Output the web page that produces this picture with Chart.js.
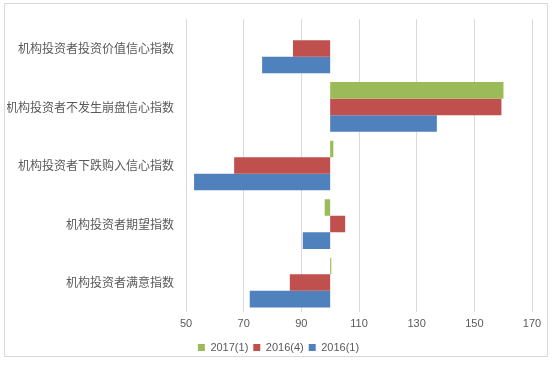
<!DOCTYPE html>
<html>
<head>
<meta charset="utf-8">
<script src="https://cdn.jsdelivr.net/npm/chart.js@4.4.1/dist/chart.umd.min.js"></script>
<style>
html,body{margin:0;padding:0;background:#fff;}
#wrap{width:556px;height:366px;position:relative;}
</style>
</head>
<body>
<div id="wrap"><canvas id="c" width="556" height="366"></canvas></div>
<script>
const categories = ["机构投资者投资价值信心指数","机构投资者不发生崩盘信心指数","机构投资者下跌购入信心指数","机构投资者期望指数","机构投资者满意指数"];
const seriesNames = ["2017(1)","2016(4)","2016(1)"];
const s2017_1 = [null, 160.1, 101.1, 98.1, 100.4];
const s2016_4 = [87.1, 159.4, 66.7, 105.2, 86.0];
const s2016_1 = [76.4, 137.0, 52.8, 90.5, 72.1];
const xTicks = [50, 70, 90, 110, 130, 150, 170];
const baseValue = 100;
const colors = ["#9BBB59", "#C0504D", "#4F81BD"];

const borderPlugin = {
  id: 'outerBorder',
  beforeDraw(chart) {
    const ctx = chart.ctx;
    ctx.save();
    ctx.fillStyle = '#fff';
    ctx.fillRect(0, 0, chart.width, chart.height);
    ctx.strokeStyle = '#d9d9d9';
    ctx.lineWidth = 1;
    ctx.strokeRect(4.5, 3.5, 543, 353);
    ctx.restore();
  },
  afterLayout(chart) {
    // centre legend on the whole canvas rather than padded area
    const lg = chart.legend;
    if (lg) { lg.left += 9; lg.right += 9; }
  }
};

const seriesData = [s2017_1, s2016_4, s2016_1];
new Chart(document.getElementById('c'), {
  type: 'bar',
  data: {
    labels: categories,
    datasets: seriesNames.map((n, i) => ({
      label: n,
      data: seriesData[i],
      base: baseValue,
      backgroundColor: colors[i],
      borderWidth: 0,
      categoryPercentage: 0.85,
      barPercentage: 1.0
    }))
  },
  options: {
    indexAxis: 'y',
    responsive: false,
    animation: false,
    layout: { padding: { left: 7, right: 24, top: 15, bottom: 3 } },
    plugins: {
      legend: {
        position: 'bottom',
        labels: {
          boxWidth: 7, boxHeight: 7, padding: 5,
          color: '#595959',
          font: { family: 'Liberation Sans, Arial, sans-serif', size: 11 }
        }
      },
      tooltip: { enabled: false }
    },
    scales: {
      x: {
        min: 50, max: 170,
        afterBuildTicks: (axis) => { axis.ticks = xTicks.map(v => ({ value: v })); },
        grid: { color: '#d9d9d9', drawTicks: false },
        border: { display: false },
        ticks: {
          padding: 6,
          autoSkip: false,
          maxRotation: 0,
          color: '#595959',
          font: { family: 'Liberation Sans, Arial, sans-serif', size: 11 }
        }
      },
      y: {
        afterFit: (axis) => { axis.width = 179; },
        grid: { display: false, drawTicks: false },
        border: { display: false },
        ticks: {
          padding: 12,
          color: '#595959',
          font: { family: 'Noto Sans CJK SC', size: 12 }
        }
      }
    }
  },
  plugins: [borderPlugin]
});
</script>
</body>
</html>
